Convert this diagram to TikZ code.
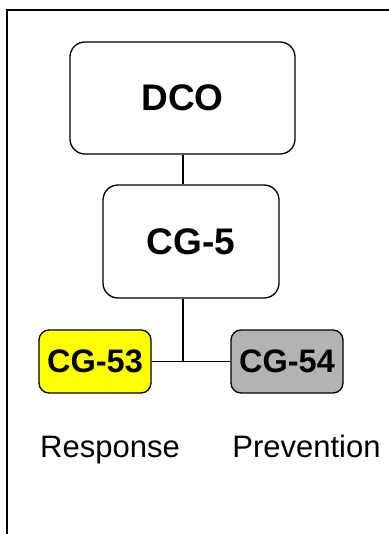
\documentclass[tikz,border=0pt]{standalone}
\usepackage{fontspec}
\setmainfont{Liberation Sans}
\usepackage{xcolor}
\usetikzlibrary{positioning}
\definecolor{cgyellow}{HTML}{FFFF00}
\definecolor{cggray}{HTML}{B3B3B3}

\begin{document}
\begin{tikzpicture}[x=1pt, y=-1pt, line width=1.3pt,
  big/.style = {draw, rounded corners=15pt, inner sep=0pt, font=\fontsize{37}{40}\selectfont\bfseries},
  small/.style = {draw, rounded corners=10pt, inner sep=0pt, minimum width=112pt, minimum height=63pt, font=\fontsize{32.5}{36}\selectfont\bfseries},
  lbl/.style = {anchor=base, inner sep=0pt, font=\fontsize{31}{34}\selectfont}]
\useasboundingbox (0,0) rectangle (388,534);
\draw[line width=2.2pt] (7,545) -- (7,10) -- (395,10);
\node[big, minimum width=225pt, minimum height=112pt] (dco) at (182.5,98) {DCO};
\node[big, minimum width=176pt, minimum height=113pt] (cg5) at (191,241.5) {CG-5};
\node[small, fill=cgyellow] (cg53) at (95,361.5) {CG-53};
\node[small, fill=cggray] (cg54) at (287,361.5) {CG-54};
\coordinate (hub) at (183,361.5);
\node[lbl] (resp) at (110,457) {Response};
\node[lbl] (prev) at (306.5,457) {Prevention};
\draw (dco.south -| hub) -- (cg5.north -| hub);
\draw (cg5.south -| hub) -- (hub);
\draw (cg53.east) -- (cg54.west);
\end{tikzpicture}
\end{document}
